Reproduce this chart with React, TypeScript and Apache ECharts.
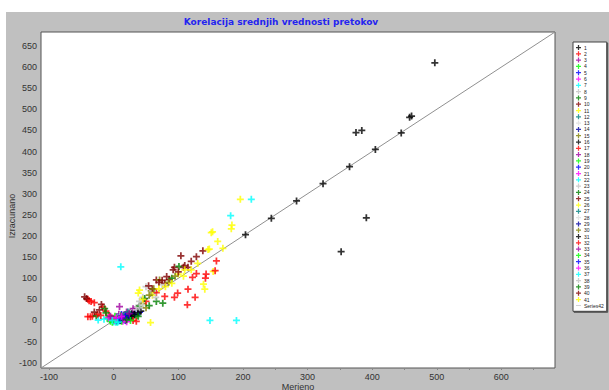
import React, { useEffect, useRef } from "react";
import * as echarts from "echarts";

// Axis range shared by both axes (the 1:1 reference line runs corner to corner)
const axisMin = -112.5;
const axisMax = 683;
const xTickValues = [-100, 0, 100, 200, 300, 400, 500, 600];
const xMinorTicks = [-100, -50, 0, 50, 100, 150, 200, 250, 300, 350, 400, 450, 500, 550, 600, 650];
const yTickValues = [-100, -50, 0, 50, 100, 150, 200, 250, 300, 350, 400, 450, 500, 550, 600, 650];

// Palette cycles every 15 series
const palette = [
  "#000000", "#ff0000", "#a000a0", "#00ff00", "#0000ff",
  "#ff00ff", "#00ffff", "#c0c0c0", "#008000", "#800000",
  "#ffff00", "#008080", "#dcdcdc", "#0000a0", "#808000",
];

// Measured (x) vs computed (y) mean flows per station
const s01 = [[204, 203], [244, 242], [283, 283], [324, 324], [365, 364], [405, 405], [445, 444], [458, 481], [461, 484], [375, 445], [384, 450], [497, 610], [391, 243], [352, 163]];
const s02 = [[-40, 50], [-38, 47], [-35, 45], [-30, 42], [-17, 32], [-12, 22], [-7, 12], [-3, 5], [-40, 9], [-36, 9], [-33, 10]];
const s03 = [[0, 5], [5, 3], [10, 8], [-5, 2], [15, 10], [8, 15]];
const s04 = [[-5, -2], [5, -3], [12, 0], [2, 10], [18, 5]];
const s05 = [[10, 5], [15, 2], [20, 8], [25, 12], [12, 14]];
const s06 = [[0, 0], [8, 2], [14, -2], [22, 4], [28, 6]];
const s07 = [[11, 127], [149, 0], [190, 0], [181, 248], [213, 287], [-24, 1], [0, -3]];
const s08 = [[30, 20], [50, 80], [45, 55], [35, 30]];
const s09 = [[-27, 11], [-14, 28], [66, 45], [76, 41], [40, 34]];
const s10 = [[-45, 56], [-42, 52], [-19, 38], [104, 153], [94, 126], [92, 120], [128, 151], [138, 165], [115, 126], [108, 126], [86, 97], [79, 88], [66, 96], [54, 82]];
const s11 = [[153, 210], [151, 208], [183, 226], [182, 217], [161, 187], [148, 169], [146, 168], [169, 171], [139, 86], [141, 74], [154, 116], [40, 72], [38, 65], [196, 287]];
const s12 = [[5, 8], [12, 4], [18, 14], [25, 18]];
const s13 = [[10, 12], [20, 18], [30, 24]];
const s14 = [[15, 5], [22, 10], [28, 15], [32, 18], [18, 0]];
const s15 = [[71, 96], [58, 70], [45, 40], [85, 90]];
const s16 = [[18, 8], [24, 12], [28, 16], [32, 20], [36, 22], [20, 4]];
const s17 = [[114, 37], [126, 55], [94, 55], [99, 65], [79, 57], [66, 66], [50, 45], [115, 74], [122, 102], [128, 111], [142, 100], [143, 110], [159, 141], [157, 118]];
const s18 = [[9, 33], [-2, 4], [3, -1], [20, 20], [30, 28]];
const s19 = [[12, -2], [30, 6], [36, 12], [-10, 5]];
const s20 = [[5, 0], [25, 5], [34, 16], [40, 20]];
const s21 = [[-8, 6], [2, 2], [16, 6]];
const s22 = [[3, -4], [8, -2], [-15, 3]];
const s23 = [[60, 70], [75, 85], [40, 45]];
const s24 = [[101, 128], [11, 11], [-12, 18], [48, 52], [90, 100]];
const s25 = [[70, 90], [82, 104], [110, 130], [120, 140], [60, 75]];
const s26 = [[100, 110], [108, 105], [120, 120], [130, 135], [60, 60], [80, 80], [57, -5]];
const s27 = [[15, 12], [22, 20]];
const s28 = [[35, 25], [45, 35]];
const s29 = [[10, 0], [20, 5], [26, 8]];
const s30 = [[55, 60], [62, 75], [95, 105], [50, 30]];
const s31 = [[28, 10], [32, 14], [38, 18], [42, 22]];
const s32 = [[-25, 15], [-20, 12], [0, 2], [30, 0], [35, -2]];
const s33 = [[14, 6], [-5, 10], [24, 16]];
const s34 = [[6, 2], [26, 0], [-2, -4]];
const s35 = [[8, 4], [18, 10]];
const s36 = [[4, 6], [12, 10], [20, -3]];
const s37 = [[-2, 0], [6, -4]];
const s38 = [[40, 30], [65, 55]];
const s39 = [[20, 2], [38, 10], [55, 35]];
const s40 = [[-30, 20], [-22, 25], [75, 95], [100, 115]];
const s41 = [[70, 75], [90, 88], [110, 120], [45, 50]];

const stationSeries = [
  s01, s02, s03, s04, s05, s06, s07, s08, s09, s10,
  s11, s12, s13, s14, s15, s16, s17, s18, s19, s20,
  s21, s22, s23, s24, s25, s26, s27, s28, s29, s30,
  s31, s32, s33, s34, s35, s36, s37, s38, s39, s40, s41,
];

const identityLine = [[axisMin, axisMin], [axisMax, axisMax]];

const plusSymbol = "path://M0,2.25H2.25V0H3.75V2.25H6V3.75H3.75V6H2.25V3.75H0Z";
const lineIcon = "path://M0,2.6H10V3.4H0Z";
const labelFont = "Liberation Sans";

export default function App() {
  const ref = useRef<HTMLDivElement>(null);

  useEffect(() => {
    if (!ref.current) return;
    const chart = echarts.init(ref.current, null, { renderer: "svg" });

    const scatterSeries = stationSeries.map((pts, i) => ({
      name: String(i + 1),
      type: "scatter",
      data: pts,
      symbol: plusSymbol,
      symbolSize: 7,
      itemStyle: { color: palette[i % palette.length] },
      z: 3,
    }));

    chart.setOption({
      animation: false,
      backgroundColor: "#c0c0c0",
      grid: {
        left: 35,
        top: 20,
        right: 54,
        bottom: 22,
        show: true,
        backgroundColor: "#ffffff",
        borderColor: "#555555",
        borderWidth: 1,
      },
      xAxis: {
        type: "value",
        min: axisMin,
        max: axisMax,
        splitLine: { show: false },
        axisLine: { show: false, onZero: false },
        axisTick: { show: true, customValues: xMinorTicks, length: 2, lineStyle: { color: "#888" } },
        axisLabel: {
          customValues: xTickValues,
          margin: 4,
          color: "#333",
          fontSize: 9,
          fontFamily: labelFont,
        },
      },
      yAxis: {
        type: "value",
        min: axisMin,
        max: axisMax,
        splitLine: { show: false },
        axisLine: { show: false, onZero: false },
        axisTick: { show: false },
        axisLabel: {
          customValues: yTickValues,
          margin: 4,
          color: "#333",
          fontSize: 9,
          fontFamily: labelFont,
        },
      },
      legend: {
        orient: "vertical",
        left: 567,
        top: 30,
        padding: [3, 3, 3, 3],
        itemWidth: 5,
        itemHeight: 5,
        itemGap: 1.3,
        backgroundColor: "#ffffff",
        borderColor: "#444444",
        borderWidth: 1,
        shadowColor: "#555555",
        shadowOffsetX: 1,
        shadowOffsetY: 1,
        textStyle: { fontSize: 5, lineHeight: 5, color: "#222", fontFamily: labelFont, padding: [0, 0, 0, -2] },
        data: [
          ...stationSeries.map((_, i) => String(i + 1)),
          { name: "Series42", icon: lineIcon, itemStyle: { color: "#909090" } },
        ],
      },
      graphic: [
        {
          type: "text",
          x: 275,
          y: 10,
          style: {
            text: "Korelacija srednjih vrednosti pretokov",
            fill: "#2424f0",
            font: 'bold 9px "DejaVu Sans"',
            textAlign: "center",
            textVerticalAlign: "middle",
          },
        },
        {
          type: "text",
          x: 292,
          y: 374.5,
          style: {
            text: "Merjeno",
            fill: "#333",
            font: `9px "${labelFont}"`,
            textAlign: "center",
            textVerticalAlign: "middle",
          },
        },
        {
          type: "text",
          x: 6,
          y: 204,
          rotation: Math.PI / 2,
          style: {
            text: "Izracunano",
            fill: "#333",
            font: `9px "${labelFont}"`,
            textAlign: "center",
            textVerticalAlign: "middle",
          },
        },
      ],
      series: [
        ...scatterSeries,
        {
          name: "Series42",
          type: "line",
          data: identityLine,
          showSymbol: false,
          symbol: "none",
          lineStyle: { color: "#909090", width: 1 },
          itemStyle: { color: "#909090" },
          z: 2,
        },
      ],
    });

    return () => chart.dispose();
  }, []);

  return (
    <div style={{ position: "absolute", left: 0, top: 0, width: 609, height: 390, background: "#ffffff" }}>
      <div ref={ref} style={{ position: "absolute", left: 6, top: 12, width: 603, height: 378 }} />
    </div>
  );
}
